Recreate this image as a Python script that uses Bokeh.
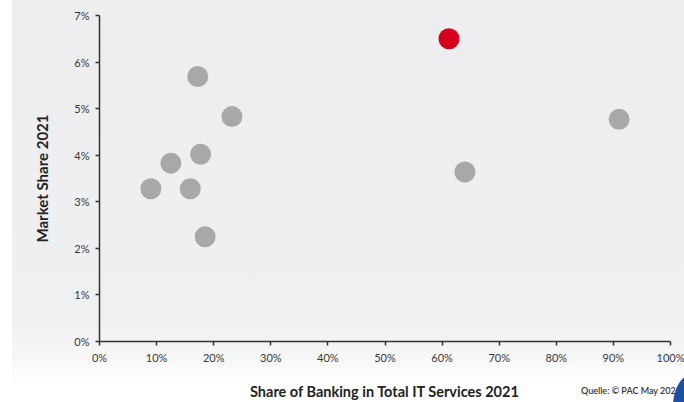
from bokeh.plotting import figure
from bokeh.models import ColumnDataSource, PrintfTickFormatter, FixedTicker, Range1d, Div
from bokeh.layouts import column
from bokeh.embed import file_html
from bokeh.resources import INLINE

# Data (percent)
banking_share = [9.0, 12.5, 15.9, 17.2, 17.7, 18.5, 23.2, 61.2, 64.0, 91.0]
market_share = [3.28, 3.83, 3.28, 5.69, 4.02, 2.25, 4.83, 6.50, 3.64, 4.77]
highlight = [False, False, False, False, False, False, False, True, False, False]
x_ticks = [0, 10, 20, 30, 40, 50, 60, 70, 80, 90, 100]
y_ticks = [0, 1, 2, 3, 4, 5, 6, 7]
source_note = "Quelle: © PAC May 2021"

colors = ["#d5001c" if h else "#a8a8a8" for h in highlight]
src = ColumnDataSource(dict(x=banking_share, y=market_share, c=colors))

FONT = "Lato"
p = figure(width=672, height=402, output_backend="svg", toolbar_location=None,
           x_range=Range1d(0, 100), y_range=Range1d(0, 7),
           min_border_left=87, min_border_right=14, min_border_top=15, min_border_bottom=60)
p.margin = (0, 0, 0, 12)
p.styles = {"background": "linear-gradient(to bottom, #ededf0 0%, #eff0f2 80%, #f7f7f8 89%, #ffffff 96%)"}
p.background_fill_alpha = 0
p.border_fill_alpha = 0
p.outline_line_color = None
p.xgrid.visible = False
p.ygrid.visible = False

p.scatter("x", "y", source=src, size=21, fill_color="c", line_color=None)

for ax in (p.xaxis[0], p.yaxis[0]):
    ax.axis_line_color = "#333333"
    ax.axis_line_width = 1.5
    ax.major_tick_line_color = "#333333"
    ax.major_tick_line_width = 1.5
    ax.major_tick_in = 0
    ax.major_tick_out = 4
    ax.minor_tick_line_color = None
    ax.major_label_text_font = FONT
    ax.major_label_text_font_size = "11px"
    ax.major_label_text_color = "#383838"
    ax.axis_label_text_font = FONT
    ax.axis_label_text_font_style = "bold"
    ax.axis_label_text_color = "#222222"
    ax.formatter = PrintfTickFormatter(format="%d%%")

p.xaxis.axis_label_text_font_size = "14.5px"
p.yaxis.axis_label_text_font_size = "15px"
p.xaxis.ticker = FixedTicker(ticks=x_ticks)
p.yaxis.ticker = FixedTicker(ticks=y_ticks)
p.xaxis.major_label_standoff = 5
p.yaxis.major_label_standoff = 6
p.xaxis.axis_label = "Share of Banking in Total IT Services 2021"
p.yaxis.axis_label = "Market Share 2021"
p.xaxis.axis_label_standoff = 16
p.yaxis.axis_label_standoff = 20

note_html = (
    '<div style="position:relative;width:684px;height:32px;overflow:hidden;">'
    '<span style="position:absolute;left:581px;top:15px;font-family:Lato;font-size:9px;'
    'font-weight:600;color:#333333;white-space:nowrap;">' + source_note + '</span>'
    '<div style="position:absolute;left:673px;top:2px;width:34px;height:48px;'
    'background:#1f4f9e;border-radius:70% 0 0 0;"></div>'
    '</div>'
)
note = Div(text=note_html, width=684, height=32, margin=(-32, 0, 0, 0))

layout = column(p, note, spacing=0)
open("out.html", "w").write(file_html(layout, INLINE))
